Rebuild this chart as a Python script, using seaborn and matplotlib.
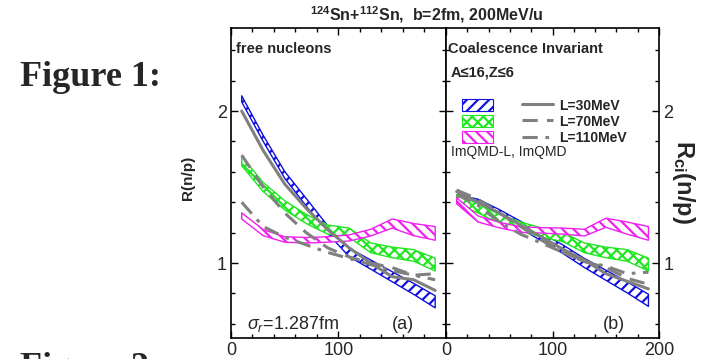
import numpy as np
import pandas as pd
import matplotlib
import matplotlib.pyplot as plt
import seaborn as sns
from matplotlib.patches import Patch
from matplotlib.lines import Line2D

# kinetic energy per nucleon (MeV/u)
ek = [10, 30, 50, 70, 90, 110, 130, 150, 170, 190]

# ImQMD-L bands, panel (a) free nucleons: centre and half width
blue_a = [2.08, 1.82, 1.58, 1.40, 1.22, 1.07, 0.99, 0.91, 0.83, 0.745]
green_a = [1.67, 1.50, 1.38, 1.29, 1.22, 1.20, 1.10, 1.07, 1.05, 0.99]
magenta_a = [1.31, 1.20, 1.155, 1.15, 1.155, 1.165, 1.20, 1.26, 1.22, 1.195]

# panel (b) coalescence invariant
blue_b = [1.43, 1.40, 1.33, 1.25, 1.17, 1.09, 1.00, 0.92, 0.84, 0.755]
green_b = [1.42, 1.36, 1.29, 1.24, 1.20, 1.17, 1.10, 1.07, 1.05, 0.99]
magenta_b = [1.41, 1.29, 1.25, 1.22, 1.215, 1.21, 1.20, 1.265, 1.23, 1.195]

blue_w = [0.02, 0.02, 0.022, 0.025, 0.025, 0.028, 0.03, 0.033, 0.036, 0.04]
green_w = [0.03, 0.03, 0.03, 0.03, 0.03, 0.03, 0.032, 0.035, 0.038, 0.042]
magenta_w = [0.02, 0.02, 0.018, 0.018, 0.018, 0.02, 0.022, 0.03, 0.04, 0.045]

# ImQMD lines
l30_a = [2.00, 1.74, 1.52, 1.36, 1.22, 1.10, 1.00, 0.91, 0.89, 0.82]
l70_a = [1.71, 1.50, 1.33, 1.20, 1.10, 1.04, 1.00, 0.97, 0.92, 0.93]
l110_a = [1.40, 1.24, 1.17, 1.12, 1.07, 1.03, 0.99, 0.95, 0.92, 0.89]
l30_b = [1.47, 1.40, 1.33, 1.25, 1.17, 1.09, 1.02, 0.93, 0.88, 0.83]
l70_b = [1.48, 1.42, 1.33, 1.24, 1.15, 1.07, 1.01, 0.97, 0.90, 0.86]
l110_b = [1.45, 1.38, 1.27, 1.19, 1.13, 1.07, 1.01, 0.98, 0.93, 0.94]

sns.set_theme(style='ticks')
plt.rcParams['font.family'] = ['Liberation Sans', 'DejaVu Sans']
plt.rcParams['hatch.linewidth'] = 1.6
plt.rcParams['mathtext.fontset'] = 'custom'
plt.rcParams['mathtext.rm'] = 'Liberation Sans'
plt.rcParams['mathtext.bf'] = 'Liberation Sans:bold'
plt.rcParams['mathtext.it'] = 'Liberation Sans:italic'

rows = []
for panel, series in [('a', [l30_a, l70_a, l110_a]), ('b', [l30_b, l70_b, l110_b])]:
    for name, vals in zip(['L=30MeV', 'L=70MeV', 'L=110MeV'], series):
        for e, r in zip(ek, vals):
            rows.append({'panel': panel, 'E': e, 'R': r, 'L': name})
df = pd.DataFrame(rows)

dash_map = {'L=30MeV': '', 'L=70MeV': (5, 3), 'L=110MeV': (5, 2.5, 1.2, 2.5)}
grey = '#808080'
hatch_style = {'blue': '///', 'green': 'xxx', 'magenta': '\\\\\\'}
band_col = {'blue': '#1010e0', 'green': '#22e622', 'magenta': '#f020f0'}

fig = plt.figure(figsize=(7.15, 3.59), dpi=100)
ax_a = fig.add_axes([0.323, 0.0585, 0.3007, 0.8635])
ax_b = fig.add_axes([0.6238, 0.0585, 0.298, 0.8635])

bands = {
    'a': [('blue', blue_a, blue_w), ('green', green_a, green_w), ('magenta', magenta_a, magenta_w)],
    'b': [('blue', blue_b, blue_w), ('green', green_b, green_w), ('magenta', magenta_b, magenta_w)],
}

for ax, panel in [(ax_a, 'a'), (ax_b, 'b')]:
    for name, centre, half in bands[panel]:
        c = np.array(centre)
        w = np.array(half)
        ax.fill_between(ek, c - w, c + w, facecolor='white', edgecolor=band_col[name],
                        hatch=hatch_style[name], linewidth=1.0, zorder=2)
    sns.lineplot(data=df[df.panel == panel], x='E', y='R', style='L',
                 dashes=dash_map, color=grey, linewidth=2.2, legend=False, ax=ax, zorder=3)
    ax.set_xlim(0, 200)
    ax.set_ylim(0.507, 2.546)
    ax.set_xlabel('')
    ax.set_ylabel('')
    ax.set_xticks([0, 100, 200])
    ax.set_xticks(np.arange(0, 201, 20), minor=True)
    ax.set_yticks([1, 2])
    ax.set_yticks([0.6, 0.8, 1.2, 1.4, 1.6, 1.8, 2.2, 2.4], minor=True)
    ax.tick_params(which='both', direction='in', top=True, right=True, left=True,
                   bottom=True, width=1.0, color='black', labelsize=13, pad=3)
    ax.tick_params(which='major', length=5)
    ax.tick_params(which='minor', length=3)
    for s in ax.spines.values():
        s.set_linewidth(1.2)
        s.set_color('black')

ax_a.set_xticklabels(['0', '100', ''])
ax_b.set_xticklabels(['0', '100', '200'])
ax_b.tick_params(axis='y', labelleft=False, labelright=True)

ax_a.set_ylabel('R(n/p)', fontsize=11, fontweight='bold')
ax_a.yaxis.set_label_coords(-0.165, 0.516)
ax_b.yaxis.set_label_position('right')
ax_b.set_ylabel(r'R$_{\mathbf{ci}}$(n/p)', fontsize=17, fontweight='bold', rotation=270,
                labelpad=0)
ax_b.yaxis.set_label_coords(1.18, 0.503)

ax_a.text(0.023, 0.955, 'free nucleons', transform=ax_a.transAxes, fontsize=10.5,
          fontweight='bold', va='top', ha='left')
ax_a.text(0.074, 0.03, r'$\sigma_r$=1.287fm', transform=ax_a.transAxes, fontsize=13,
          va='baseline', ha='left')
ax_a.text(0.75, 0.03, '(a)', transform=ax_a.transAxes, fontsize=13, va='baseline', ha='left')

ax_b.text(0.01, 0.955, 'Coalescence Invariant', transform=ax_b.transAxes, fontsize=10.5,
          fontweight='bold', va='top', ha='left')
ax_b.text(0.024, 0.88, 'A≤16,Z≤6', transform=ax_b.transAxes, fontsize=10.5,
          fontweight='bold', va='top', ha='left')
ax_b.text(0.737, 0.03, '(b)', transform=ax_b.transAxes, fontsize=13, va='baseline', ha='left')
ax_b.text(0.023, 0.6, 'ImQMD-L, ImQMD', transform=ax_b.transAxes, fontsize=10,
          va='center', ha='left')

handles = [Patch(facecolor='white', edgecolor=band_col[k], hatch=hatch_style[k], linewidth=0.8)
           for k in ['blue', 'green', 'magenta']]
handles += [Line2D([], [], color=grey, linewidth=2.2, dashes=dash_map[k] if dash_map[k] else (None, None))
            for k in ['L=30MeV', 'L=70MeV', 'L=110MeV']]
labels = ['', '', '', 'L=30MeV', 'L=70MeV', 'L=110MeV']
leg = ax_b.legend(handles, labels, ncol=2, loc='upper left', bbox_to_anchor=(0.05, 0.79),
                  frameon=False, handlelength=2.2, handleheight=0.9, handletextpad=0.5,
                  columnspacing=1.6, labelspacing=0.15, borderaxespad=0,
                  prop={'size': 10, 'weight': 'bold'})

fig.text(0.597, 0.958, r'$^{\mathbf{124}}$Sn+$^{\mathbf{112}}$Sn,  b=2fm, 200MeV/u',
         fontsize=11.5, fontweight='bold', ha='center', va='center')
fig.text(0.028, 0.785, 'Figure 1:', family=['Liberation Serif', 'DejaVu Serif'],
         fontsize=26, fontweight='bold', ha='left', va='center')
fig.text(0.028, 0.02, 'Figure 2:', family=['Liberation Serif', 'DejaVu Serif'],
         fontsize=26, fontweight='bold', ha='left', va='top')

fig.savefig('out.png', dpi=100)
